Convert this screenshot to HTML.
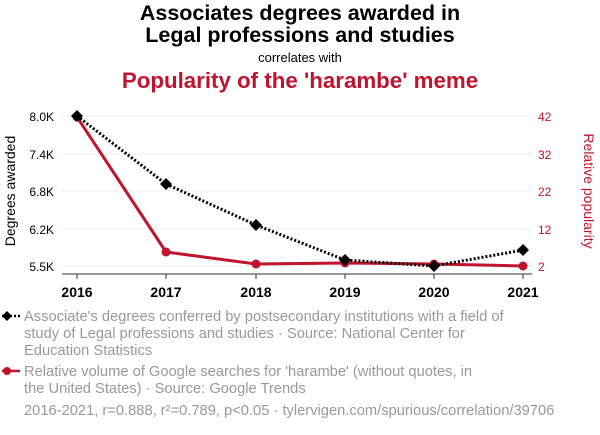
<!DOCTYPE html>
<html><head><meta charset="utf-8"><style>
body{margin:0;width:600px;height:430px;background:#fff;overflow:hidden;font-family:"Liberation Sans",sans-serif}
</style></head><body>
<svg width="600" height="430" xmlns="http://www.w3.org/2000/svg" font-family="Liberation Sans, sans-serif">
<text x="300" y="20" text-anchor="middle" font-size="21.5" font-weight="bold">Associates degrees awarded in</text>
<text x="300" y="42" text-anchor="middle" font-size="21.5" font-weight="bold">Legal professions and studies</text>
<text x="300" y="62" text-anchor="middle" font-size="13">correlates with</text>
<text x="300" y="88" text-anchor="middle" font-size="22.3" font-weight="bold" fill="#c0142e">Popularity of the 'harambe' meme</text>
<g stroke="#eee" stroke-width="1">
<line x1="62" x2="532" y1="116" y2="116"/><line x1="62" x2="532" y1="154" y2="154"/><line x1="62" x2="532" y1="191" y2="191"/><line x1="62" x2="532" y1="229" y2="229"/><line x1="62" x2="532" y1="266" y2="266"/>
</g>
<line x1="62" x2="532" y1="274" y2="274" stroke="#333"/>
<g stroke="#333"><line x1="77" x2="77" y1="274" y2="279"/><line x1="166" x2="166" y1="274" y2="279"/><line x1="256" x2="256" y1="274" y2="279"/><line x1="345" x2="345" y1="274" y2="279"/><line x1="434" x2="434" y1="274" y2="279"/><line x1="523" x2="523" y1="274" y2="279"/></g>
<g font-size="14" font-weight="bold" text-anchor="middle"><text x="77" y="297">2016</text><text x="166" y="297">2017</text><text x="256" y="297">2018</text><text x="345" y="297">2019</text><text x="434" y="297">2020</text><text x="523" y="297">2021</text></g>
<g font-size="12" text-anchor="end"><text x="54" y="121">8.0K</text><text x="54" y="159">7.4K</text><text x="54" y="196">6.8K</text><text x="54" y="234">6.2K</text><text x="54" y="271">5.5K</text></g>
<g font-size="12" fill="#c0142e"><text x="538" y="121">42</text><text x="538" y="159">32</text><text x="538" y="196">22</text><text x="538" y="234">12</text><text x="538" y="271">2</text></g>
<text transform="translate(15,191) rotate(-90)" text-anchor="middle" font-size="14">Degrees awarded</text>
<text transform="translate(584,191) rotate(90)" text-anchor="middle" font-size="14" fill="#c0142e">Relative popularity</text>
<polyline points="77,117 166,252 256,264 345,263 434,264 523,266" fill="none" stroke="#c0142e" stroke-width="3"/>
<g fill="#c0142e"><circle cx="77" cy="117" r="4.5"/><circle cx="166" cy="252" r="4.5"/><circle cx="256" cy="264" r="4.5"/><circle cx="345" cy="263" r="4.5"/><circle cx="434" cy="264" r="4.5"/><circle cx="523" cy="266" r="4.5"/></g>
<polyline points="77,116 166,184 256,225 345,260 434,266 523,250" fill="none" stroke="#000" stroke-width="3" stroke-dasharray="2,2"/>
<g fill="#000">
<path d="M77,110l6,6l-6,6l-6,-6z"/><path d="M166,178l6,6l-6,6l-6,-6z"/><path d="M256,219l6,6l-6,6l-6,-6z"/><path d="M345,254l6,6l-6,6l-6,-6z"/><path d="M434,260l6,6l-6,6l-6,-6z"/><path d="M523,244l6,6l-6,6l-6,-6z"/>
</g>
<line x1="2" x2="20" y1="316" y2="316" stroke="#000" stroke-width="2.5" stroke-dasharray="2,2"/>
<path d="M7,311l5,5l-5,5l-5,-5z" fill="#000"/>
<g font-size="14.7" fill="#999"><text x="24" y="321">Associate's degrees conferred by postsecondary institutions with a field of</text><text x="24" y="338">study of Legal professions and studies · Source: National Center for</text><text x="24" y="355">Education Statistics</text>
<text x="24" y="376">Relative volume of Google searches for 'harambe' (without quotes, in</text><text x="24" y="393">the United States) · Source: Google Trends</text>
<text x="24" y="415">2016-2021, r=0.888, r²=0.789, p&lt;0.05 · tylervigen.com/spurious/correlation/39706</text></g>
<line x1="2" x2="20" y1="371" y2="371" stroke="#c0142e" stroke-width="2.5"/>
<circle cx="7" cy="371" r="4" fill="#c0142e"/>
</svg>
</body></html>
